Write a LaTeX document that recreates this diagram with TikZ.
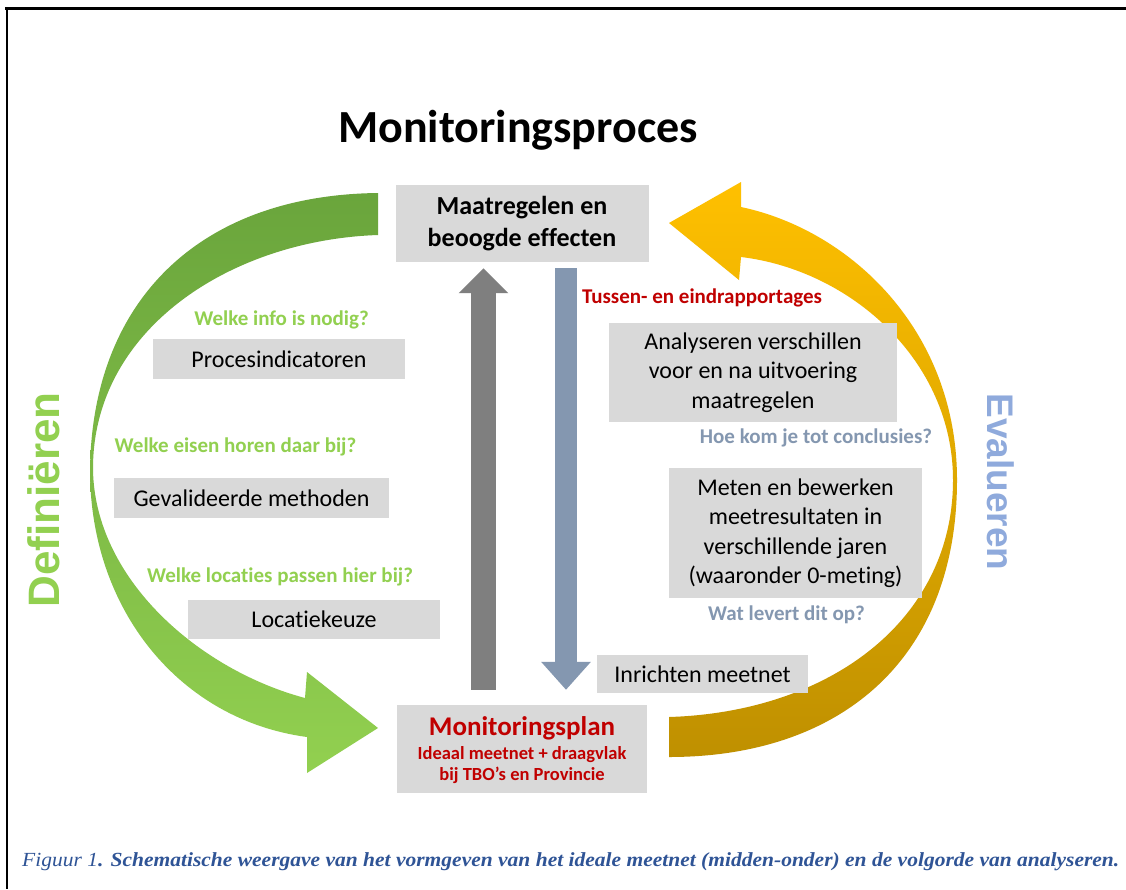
\documentclass[tikz,border=0pt]{standalone}
\usepackage{fontspec}
\usepackage{graphicx}
\setmainfont{Carlito}[Ligatures=NoCommon]
\newfontfamily\capfont{Liberation Serif}
\newfontfamily\sidefont{Liberation Sans}
\usetikzlibrary{arrows.meta}

\definecolor{boxgray}{RGB}{217,217,217}
\definecolor{dgreen}{RGB}{106,165,60}
\definecolor{lgreen}{RGB}{146,208,80}
\definecolor{qblue}{RGB}{132,151,176}
\definecolor{sideblue}{RGB}{143,170,220}
\definecolor{plred}{RGB}{192,0,0}
\definecolor{upgray}{RGB}{127,127,127}
\definecolor{downblue}{RGB}{132,151,176}
\definecolor{goldA}{RGB}{255,192,0}
\definecolor{goldB}{RGB}{191,144,0}
\definecolor{capblue}{RGB}{47,84,150}

\begin{document}
\begin{tikzpicture}[x=1pt,y=-1pt,
  box/.style={fill=boxgray, inner sep=0pt, align=center},
  boxtext/.style={font=\fontsize{24}{29.5}\selectfont},
  question/.style={inner sep=0pt, font=\bfseries\fontsize{21}{21}\selectfont},
  plain/.style={inner sep=0pt},
]
\useasboundingbox (0,0) rectangle (1126,889);
\fill[white] (0,0) rectangle (1126,889);

% page frame (top and left rules)
\draw[line width=2.5pt] (5,8.5) -- (1126,8.5);
\draw[line width=2pt] (7,7.5) -- (7,889);

% title
\node[plain, font=\bfseries\fontsize{46}{46}\selectfont] (title) at (518,130) {Monitoringsproces};

% green curved arrow (Definieren), running down the left side
\shade[top color=dgreen, bottom color=lgreen]
  (378,193) .. controls (200,195) and (92,300) .. (90,470)
            .. controls (90,610) and (180,720) .. (307,737)
  -- (307,773) -- (378,728) -- (307,672) -- (305,698)
  .. controls (200,670) and (95,580) .. (93,470)
  .. controls (92,330) and (230,240) .. (378,235)
  -- cycle;

% golden curved arrow (Evalueren), running up the right side
\shade[top color=goldA, middle color=goldA!75!goldB, bottom color=goldB]
  (669,757) .. controls (840,757) and (957,660) .. (957,480)
            .. controls (957,330) and (850,230) .. (741,207)
  -- (741,182) -- (669,223) -- (739,280) -- (741,257)
  .. controls (850,270) and (953,360) .. (953,480)
  .. controls (953,620) and (830,712) .. (669,717)
  -- cycle;

% side labels
\node[plain, rotate=90, text=lgreen, font=\sidefont\bfseries\fontsize{44}{44}\selectfont] (defin) at (44,500) {Definiëren};
\node[plain, rotate=-90, text=sideblue, font=\sidefont\bfseries\fontsize{37}{37}\selectfont] (evalu) at (1001,482) {Evalueren};

% central boxes
\node[box, minimum width=253pt, minimum height=77pt, font=\bfseries\fontsize{26}{32}\selectfont] (maat) at (522,223.5) {Maatregelen en\\beoogde effecten};
\node[box, minimum width=250pt, minimum height=88pt] (plan) at (522,749) {};
\node[plain, text=plred, font=\bfseries\fontsize{27}{27}\selectfont] (plantitle) at (522,728) {Monitoringsplan};
\node[plain, text=plred, font=\bfseries\fontsize{18.5}{18.5}\selectfont] (plansubA) at (522,755) {Ideaal meetnet + draagvlak};
\node[plain, text=plred, font=\bfseries\fontsize{18.5}{18.5}\selectfont] (plansubB) at (522,775) {bij TBO’s en Provincie};

% block arrows between the central boxes
\draw[upgray, line width=25pt, -{Triangle[width=48pt, length=25pt]}]
  ([xshift=-38.5pt, yshift=15pt]plan.north) -- ([xshift=-38.5pt, yshift=-6pt]maat.south);
\draw[downblue, line width=22pt, -{Triangle[width=48pt, length=28pt]}]
  ([xshift=44pt, yshift=-6pt]maat.south) -- ([xshift=44pt, yshift=15pt]plan.north);

% left column: defining the monitoring network
\node[question, text=lgreen] (qinfo) at (281.5,320) {Welke info is nodig?};
\node[box, boxtext, minimum width=252pt, minimum height=40pt] (proc) at (279,359) {Procesindicatoren};
\node[question, text=lgreen] (qeisen) at (235.5,447) {Welke eisen horen daar bij?};
\node[box, boxtext, minimum width=275pt, minimum height=40pt] (geval) at (251.5,498) {Gevalideerde methoden};
\node[question, text=lgreen] (qloc) at (280,577) {Welke locaties passen hier bij?};
\node[box, boxtext, minimum width=252pt, minimum height=39pt] (loc) at (314,619.5) {Locatiekeuze};

% right column: evaluating
\node[question, text=plred] (rapp) at (702,298) {Tussen- en eindrapportages};
\node[box, boxtext, minimum width=288pt, minimum height=99pt] (anal) at (753,372.5) {Analyseren verschillen\\voor en na uitvoering\\maatregelen};
\node[question, text=qblue] (qconcl) at (816,438) {Hoe kom je tot conclusies?};
\node[box, boxtext, minimum width=253pt, minimum height=130pt] (meten) at (795.5,533) {Meten en bewerken\\meetresultaten in\\verschillende jaren\\(waaronder 0-meting)};
\node[question, text=qblue] (qlevert) at (786.5,615) {Wat levert dit op?};
\node[box, boxtext, minimum width=211pt, minimum height=38pt] (inr) at (702.5,674) {Inrichten meetnet};

% caption
\node[plain, anchor=west, text=capblue] (caption) at (22,862)
  {\resizebox{1097pt}{\height}{\capfont\fontsize{20}{20}\selectfont\itshape Figuur 1\bfseries. Schematische weergave van het vormgeven van het ideale meetnet (midden-onder) en de volgorde van analyseren.}};
\end{tikzpicture}
\end{document}
